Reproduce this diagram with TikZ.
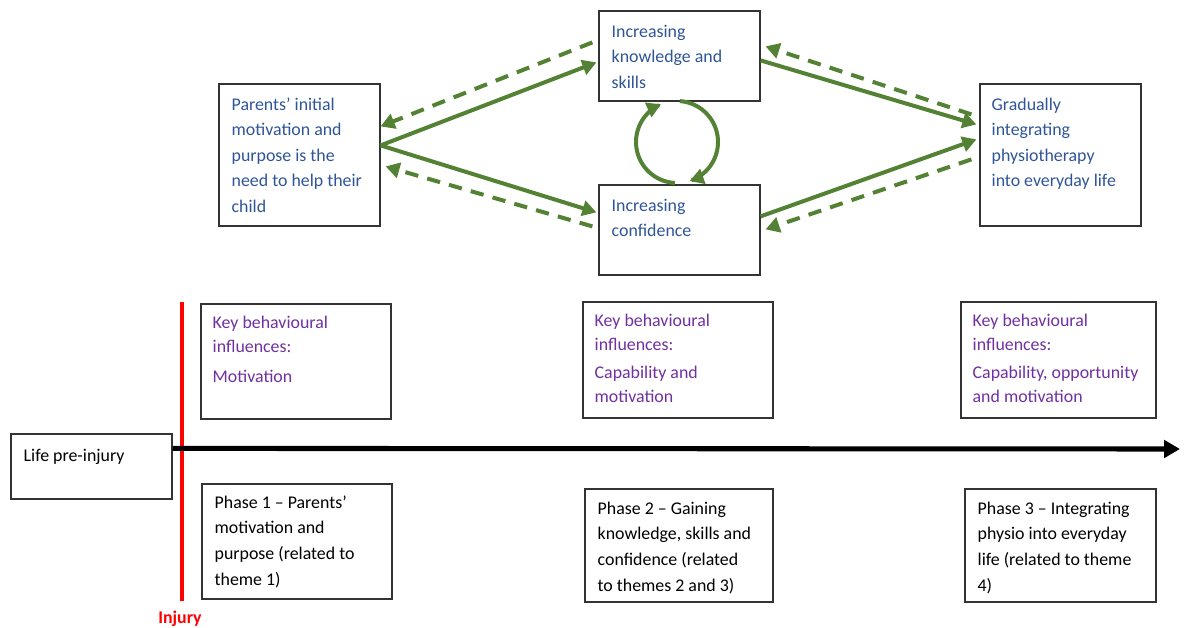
\documentclass[tikz,border=0pt]{standalone}
\usepackage{fontspec}
\setmainfont{Carlito}
\usetikzlibrary{arrows.meta,calc}
\definecolor{tblue}{HTML}{2F5597}
\definecolor{tpurple}{HTML}{7030A0}
\definecolor{agreen}{HTML}{548235}
\newcommand\firstln{\rule{0pt}{10.5pt}}
\begin{document}
\begin{tikzpicture}[x=0.75pt,y=-0.75pt,
  box/.style={draw=black!80,line width=0.9pt,inner sep=0pt},
  topbox/.style={box,minimum width=120.75pt},
  txt/.style={anchor=north west,inner sep=0pt,align=left,font=\fontsize{13.4}{19.1}\selectfont},
  bluetxt/.style={txt,text=tblue},
  keytxt/.style={txt,text=tpurple,font=\fontsize{13.4}{18}\selectfont},
  phtxt/.style={txt,text=black,font=\fontsize{13.4}{19.3}\selectfont},
  garrow/.style={draw=agreen,line width=3pt,-{Triangle[length=10.5pt,width=11.5pt]}},
  gdash/.style={garrow,dash pattern=on 10pt off 7pt},
]
\useasboundingbox (0,0) rectangle (1186,628);

% top boxes
\node[topbox,minimum height=106.5pt] (par) at (299.5,155) {};
\node[topbox,minimum height=67.5pt] (kn) at (679.5,56) {};
\node[topbox,minimum height=67.5pt] (co) at (679.5,230) {};
\node[topbox,minimum height=106.5pt] (gr) at (1060.5,155) {};

\node[bluetxt] (partxt) at ($(par.north west)+(13,12.5)$) {\firstln Parents’ initial\\motivation and\\purpose is the\\need to help their\\child};
\node[bluetxt] (kntxt) at ($(kn.north west)+(13,12.5)$) {\firstln Increasing\\knowledge and\\skills};
\node[bluetxt] (cotxt) at ($(co.north west)+(13,12.5)$) {\firstln Increasing\\confidence};
\node[bluetxt] (grtxt) at ($(gr.north west)+(12,12.5)$) {\firstln Gradually\\integrating\\physiotherapy\\into everyday life};

% key boxes
\node[box,minimum width=142.5pt,minimum height=86.25pt] (k1) at (296,361.5) {};
\node[box,minimum width=142.5pt,minimum height=87pt] (k2) at (678,360) {};
\node[box,minimum width=146.25pt,minimum height=87pt] (k3) at (1058.5,360) {};
\node[keytxt] (k1t) at ($(k1.north west)+(12,10.5)$) {\firstln Key behavioural\\influences:\\[4.5pt]Motivation};
\node[keytxt] (k2t) at ($(k2.north west)+(12,10.5)$) {\firstln Key behavioural\\influences:\\[3.5pt]Capability and\\motivation};
\node[keytxt] (k3t) at ($(k3.north west)+(12,10.5)$) {\firstln Key behavioural\\influences:\\[3.5pt]Capability, opportunity\\and motivation};

% phase boxes
\node[box,minimum width=120.75pt,minimum height=48.75pt] (life) at (91.5,466.5) {};
\node[box,minimum width=142.5pt,minimum height=86.25pt] (p1) at (297,541.5) {};
\node[box,minimum width=141pt,minimum height=84.75pt] (p2) at (679,545.5) {};
\node[box,minimum width=143.25pt,minimum height=84.75pt] (p3) at (1060.5,545.5) {};
\node[phtxt] (lifet) at ($(life.north west)+(13,13.5)$) {\firstln Life pre-injury};
\node[phtxt] (p1t) at ($(p1.north west)+(13,10.5)$) {\firstln Phase 1 – Parents’\\motivation and\\purpose (related to\\theme 1)};
\node[phtxt] (p2t) at ($(p2.north west)+(13,11.5)$) {\firstln Phase 2 – Gaining\\knowledge, skills and\\confidence (related\\to themes 2 and 3)};
\node[phtxt] (p3t) at ($(p3.north west)+(13,11.5)$) {\firstln Phase 3 – Integrating\\physio into everyday\\life (related to theme\\4)};

% injury line and timeline
\node[text=red,font=\fontsize{13.4}{16}\selectfont\bfseries,inner sep=0pt] (inj) at (180,619) {Injury};
\coordinate (injtop) at (182,302);
\coordinate (injbot) at (182,601);
\draw[red,line width=3.5pt] (injtop) -- (injbot);
\coordinate (axstart) at ($(life.north east)+(0,15)$);
\coordinate (axend) at (1180,449);
\draw[black,line width=3.8pt,-{Triangle[length=12pt,width=13pt]}] (axstart) -- (axend);

% green arrows, left side
\coordinate (pout) at ($(par.north east)+(0,62)$);
\draw[garrow] (pout) -- ($(kn.north west)+(-2,52)$);
\draw[garrow] (pout) -- ($(co.north west)+(-2,28)$);
\draw[gdash] ($(kn.north west)+(-6,32)$) -- ($(par.north east)+(0,43)$);
\draw[gdash] ($(co.north west)+(-6,42)$) -- ($(par.north east)+(5,83)$);
% right side
\draw[garrow] ($(kn.north east)+(0,50)$) -- ($(gr.north west)+(-3,41)$);
\draw[garrow] ($(co.north east)+(0,32)$) -- ($(gr.north west)+(-3,56)$);
\draw[gdash] ($(gr.north west)+(-8,31)$) -- ($(kn.north east)+(5,36)$);
\draw[gdash] ($(gr.north west)+(-8,76)$) -- ($(co.north east)+(5,45)$);

% cycle between knowledge and confidence
\coordinate (cyc) at (677,142);
\draw[garrow] plot[smooth,domain=93:247,samples=40] ({677+41*cos(\x)},{142+41*sin(\x)});
\draw[garrow] plot[smooth,domain=-86:72,samples=40] ({677+41*cos(\x)},{142+41*sin(\x)});
\end{tikzpicture}
\end{document}
